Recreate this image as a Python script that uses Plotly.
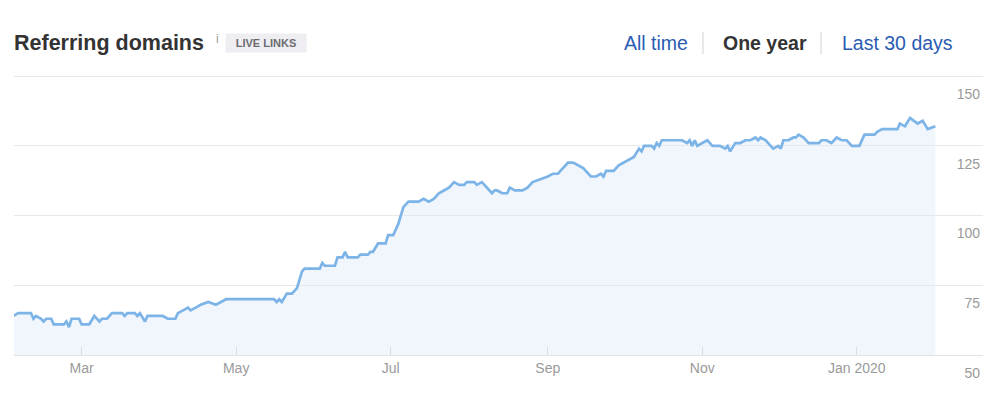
import pandas as pd
import plotly.graph_objects as go

# Day offsets from 2019-02-01 and referring-domain counts
days = [1, 3, 8, 9, 10, 12, 13, 14, 16, 17, 21, 22, 23, 24, 27, 28, 31, 33, 35, 36,
        38, 40, 44, 45, 46, 49, 50, 51, 53, 54, 60, 62, 65, 66, 70, 71, 73, 75, 78, 81,
        83, 85, 104, 105, 106, 107, 109, 111, 113,
        115, 116, 122, 123, 124, 128, 129, 131, 132, 133, 137, 138, 141, 142, 143, 145,
        148, 149, 151, 153, 154, 155, 157, 161, 163, 165, 167, 169, 171, 173, 175, 177,
        179, 180, 183, 184, 186, 188, 190, 191, 192, 194, 196, 197, 199, 202, 204, 206,
        209, 212, 214, 216, 218, 220, 222, 224, 226, 229, 231, 233, 234, 235, 238, 240,
        242, 244, 246, 248, 249, 250, 253, 254, 255, 256, 257, 265, 267, 268, 269, 270,
        271, 273, 275, 277, 280, 282, 283, 284, 286, 288, 290, 292, 294, 295, 296, 298,
        299, 301, 303, 304, 305, 307, 309, 310, 311, 313, 315, 319, 320, 322, 324, 326,
        328, 330, 332, 335, 337, 341, 342, 344, 350, 351, 353, 355, 358, 360, 362, 365]
domains = [64, 65, 65, 63, 64, 63, 62, 63, 63, 61, 61, 62, 60, 63, 63, 61, 61, 64, 62, 63,
           63, 65, 65, 64, 65, 65, 64, 65, 62, 64, 64, 63, 63, 65, 67, 66, 67, 68, 69, 68,
           69, 70, 70, 69, 70, 69, 72, 72, 74,
           80, 81, 81, 83, 82, 82, 85, 85, 87, 85, 85, 86, 86, 87, 87, 90,
           90, 93, 93, 97, 100, 103, 105, 105, 106, 105, 106, 108, 109, 110, 112, 111,
           111, 112, 112, 111, 112, 110, 108, 109, 109, 108, 108, 110, 109, 109, 110, 112,
           113, 114, 115, 115, 117, 119, 119, 118, 117, 114, 114, 115, 114, 116, 116, 118,
           119, 120, 121, 124, 123, 125, 125, 124, 126, 125, 127, 127, 126, 127, 125, 127,
           125, 126, 127, 125, 125, 124, 125, 123, 126, 126, 127, 127, 128, 127, 128, 127,
           126, 124, 125, 124, 127, 127, 128, 128, 129, 128, 126, 126, 127, 127, 126, 128,
           127, 127, 125, 125, 129, 129, 130, 131, 131, 133, 132, 135, 133, 134, 131, 132]

start = pd.Timestamp("2019-02-01")
dates = [start + pd.Timedelta(days=d) for d in days]

tick_dates = ["2019-03-01", "2019-05-01", "2019-07-01", "2019-09-01", "2019-11-01", "2020-01-01"]
tick_labels = ["Mar", "May", "Jul", "Sep", "Nov", "Jan 2020"]
y_ticks = [50, 75, 100, 125, 150]

FONT = "Liberation Sans, Arial, Helvetica, sans-serif"
BLUE = "#2a5cb3"

# page has an 8px body margin; all pixel positions below are figure pixels
W, H = 1000, 400
pl, pr, pt, pb = 6, 25, 67, 53
pw, ph = W - pl - pr, H - pt - pb
OFF = 8


def px_to_paper(x, y):
    x -= OFF
    y -= OFF
    return (x - pl) / pw, (H - pb - y) / ph


fig = go.Figure()
fig.add_trace(go.Scatter(
    x=dates, y=domains, mode="lines",
    line=dict(color="#7db4e8", width=2.7),
    fill="tozeroy", fillcolor="rgba(222,235,248,0.45)",
    hoverinfo="x+y",
))


def ann(text, x, y, size, color, xanchor="left", **kw):
    px, py = px_to_paper(x, y)
    return dict(text=text, x=px, y=py, xref="paper", yref="paper", showarrow=False,
                xanchor=xanchor, yanchor="middle",
                font=dict(size=size, color=color, family=FONT), **kw)


def vline(x, y0, y1):
    a0, b0 = px_to_paper(x, y0)
    a1, b1 = px_to_paper(x, y1)
    return dict(type="line", xref="paper", yref="paper", x0=a0, x1=a1, y0=b0, y1=b1,
                line=dict(color="#e2e2e2", width=1.5))


fig.update_layout(
    width=W, height=H,
    margin=dict(l=pl, r=pr, t=pt, b=pb),
    paper_bgcolor="white", plot_bgcolor="white",
    showlegend=False,
    font=dict(family=FONT, color="#999999", size=14),
    xaxis=dict(
        range=[start + pd.Timedelta(days=1.3), start + pd.Timedelta(days=383.8)],
        tickvals=tick_dates, ticktext=tick_labels,
        showgrid=False, zeroline=False,
        showline=True, linecolor="#e2e2e2", linewidth=1,
        ticks="inside", ticklen=8, tickcolor="#dddddd", tickwidth=1,
        tickfont=dict(size=14, color="#9a9a9a"),
        fixedrange=True,
    ),
    yaxis=dict(
        range=[50, 150.4], tickvals=y_ticks,
        side="right", ticklabelposition="inside bottom",
        ticklabelshift=8, ticklabeloverflow="allow",
        showgrid=True, gridcolor="#e8e8e8", gridwidth=1,
        zeroline=False, showline=False, ticks="",
        tickfont=dict(size=14, color="#9a9a9a"),
        fixedrange=True,
    ),
    annotations=[
        ann("<b>Referring domains</b>", 12, 43, 21.5, "#333333"),
        ann("i", 214, 39, 12, "#999999"),
        ann("<b>LIVE LINKS</b>", 265.5, 43, 11, "#6b6b70", xanchor="center",
            bgcolor="#eeeef2", borderpad=3, width=74),
        ann("All time", 622, 43, 19.5, BLUE),
        ann("<b>One year</b>", 721, 43, 19.5, "#333333"),
        ann("Last 30 days", 840, 43, 19.5, BLUE),
    ],
    shapes=[vline(703, 32, 54), vline(821, 32, 54)],
)

fig.write_html("out.html", config={"displayModeBar": False})
